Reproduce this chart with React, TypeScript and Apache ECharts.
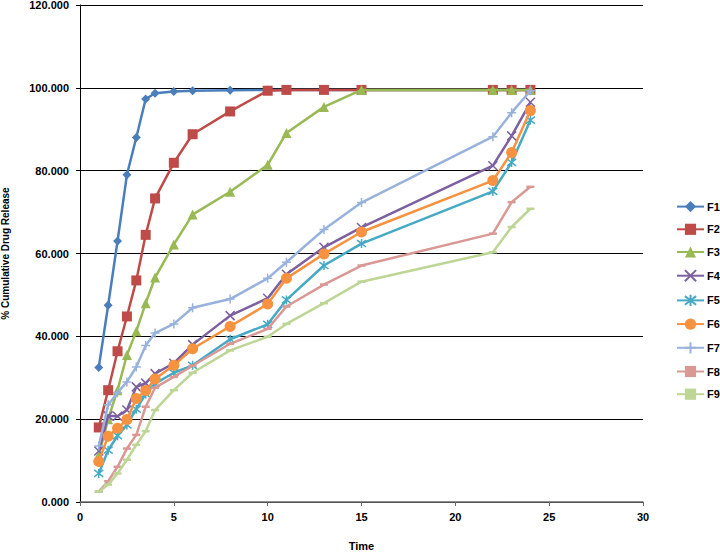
import React, { useEffect, useRef } from "react";
import * as echarts from "echarts";

const times = [1, 1.5, 2, 2.5, 3, 3.5, 4, 5, 6, 8, 10, 11, 13, 15, 22, 23, 24];
const seriesNames = ["F1", "F2", "F3", "F4", "F5", "F6", "F7", "F8", "F9"];

const f1 = [32.5, 47.5, 63.0, 79.0, 88.0, 97.3, 98.7, 99.1, 99.3, 99.4, 99.5, 99.5, 99.5, 99.5, 99.5, 99.5, 99.5];
const f2 = [18.0, 27.0, 36.4, 44.8, 53.5, 64.5, 73.3, 81.9, 88.8, 94.3, 99.3, 99.5, 99.5, 99.5, 99.5, 99.5, 99.5];
const f3 = [11.3, 20.0, 27.0, 35.5, 41.2, 48.0, 54.2, 62.2, 69.4, 74.9, 81.4, 89.1, 95.4, 99.5, 99.5, 99.5, 99.5];
const f4 = [12.3, 20.8, 20.7, 22.2, 27.8, 28.7, 31.0, 33.5, 38.0, 45.0, 49.2, 55.0, 61.5, 66.3, 81.2, 88.4, 96.5];
const f5 = [6.9, 12.5, 16.0, 18.6, 22.4, 26.1, 28.6, 31.2, 33.0, 39.3, 42.9, 48.8, 57.1, 62.4, 75.0, 82.0, 92.2];
const f6 = [9.8, 15.9, 17.8, 19.9, 25.0, 26.9, 29.7, 33.0, 37.0, 42.4, 47.8, 54.0, 59.9, 65.2, 77.6, 84.4, 94.5];
const f7 = [13.5, 23.5, 26.4, 29.0, 32.6, 37.8, 40.8, 43.0, 46.9, 49.0, 54.0, 57.9, 65.8, 72.3, 88.2, 94.0, 99.3];
const f8 = [2.5, 5.0, 8.5, 12.9, 16.2, 23.0, 27.6, 30.2, 32.9, 38.2, 41.8, 47.2, 52.5, 57.1, 64.8, 72.4, 76.1];
const f9 = [2.5, 4.2, 6.9, 10.2, 13.8, 17.1, 22.2, 27.0, 31.2, 36.6, 39.9, 43.0, 48.0, 53.2, 60.3, 66.4, 70.8];

const yTicks = [0, 20, 40, 60, 80, 100, 120];
const xTicks = [0, 5, 10, 15, 20, 25, 30];

const allValues = [f1, f2, f3, f4, f5, f6, f7, f8, f9];
const colors = ["#4A7EBB", "#BE4B48", "#98B954", "#7D60A0", "#46AAC5", "#F69240", "#98B2DC", "#DA9895", "#BDD595"];
const symbols = [
  "diamond",
  "rect",
  "triangle",
  "path://M0,0L10,10M10,0L0,10",
  "path://M0,0L10,10M10,0L0,10M5,-1.5L5,11.5",
  "circle",
  "path://M5,0L5,10M0,5L10,5",
  "rect",
  "rect",
];
const symbolSizes: any[] = [9, 10, 10, 9, 9, 11, 9, [8, 2.5], [8, 2.5]];

const FONT = "'Liberation Sans', Arial, sans-serif";

export default function App() {
  const ref = useRef<HTMLDivElement>(null);
  useEffect(() => {
    document.body.style.margin = "0";
    if (!ref.current) return;
    const chart = echarts.init(ref.current, null, { renderer: "svg" });
    const series = allValues.map((vals, i) => ({
      name: seriesNames[i],
      type: "line",
      data: times.map((t, j) => [t, vals[j]]),
      symbol: symbols[i],
      symbolSize: symbolSizes[i],
      showSymbol: true,
      lineStyle: { color: colors[i], width: 2.5 },
      itemStyle: {
        color: colors[i],
        borderColor: colors[i],
        borderWidth: i === 3 || i === 4 || i === 6 ? 1.5 : 0,
      },
      emphasis: { disabled: true },
      z: 2 + i,
    }));
    chart.setOption({
      animation: false,
      backgroundColor: "#ffffff",
      textStyle: { fontFamily: FONT },
      grid: { left: 80, right: 77, top: 5, bottom: 51, containLabel: false, outerBoundsMode: "none" },
      legend: {
        orient: "vertical",
        left: 676,
        top: 201,
        itemWidth: 27,
        itemHeight: 14,
        itemGap: 11.5,
        data: seriesNames,
        textStyle: { fontFamily: FONT, fontSize: 11, fontWeight: "bold", color: "#000", padding: [0, 0, 0, -2] },
        padding: 0,
      },
      xAxis: {
        type: "value",
        min: xTicks[0],
        max: xTicks[xTicks.length - 1],
        interval: 5,
        name: "Time",
        nameLocation: "middle",
        nameGap: 38,
        nameTextStyle: { fontFamily: FONT, fontSize: 11, fontWeight: "bold", color: "#000" },
        axisLine: { show: true, onZero: false, lineStyle: { color: "#6b6b6b", width: 1.5 } },
        axisTick: { show: true, length: 4, lineStyle: { color: "#6b6b6b" } },
        axisLabel: { fontFamily: FONT, fontSize: 11, fontWeight: "bold", color: "#000", margin: 9 },
        splitLine: { show: false },
      },
      yAxis: {
        type: "value",
        min: yTicks[0],
        max: yTicks[yTicks.length - 1],
        interval: 20,
        name: "% Cumulative Drug Release",
        nameLocation: "middle",
        nameRotate: 90,
        nameGap: 70,
        nameTextStyle: { fontFamily: FONT, fontSize: 10, fontWeight: "bold", color: "#000" },
        axisLine: { show: true, lineStyle: { color: "#000", width: 1 } },
        axisTick: { show: true, length: 4, lineStyle: { color: "#000" } },
        axisLabel: {
          fontFamily: FONT,
          fontSize: 11,
          fontWeight: "bold",
          color: "#000",
          margin: 11,
          formatter: (v: number) => v.toFixed(3),
        },
        splitLine: { show: true, lineStyle: { color: "#000", width: 1 } },
      },
      series,
    });
    return () => chart.dispose();
  }, []);
  return <div ref={ref} style={{ width: 720, height: 553 }} />;
}
